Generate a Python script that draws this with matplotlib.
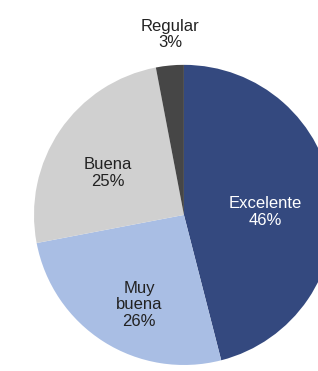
import matplotlib
matplotlib.use("Agg")
import matplotlib.pyplot as plt

categories = ["Excelente", "Muy buena", "Buena", "Regular"]
values = [46, 26, 25, 3]
label_texts = ["Excelente\n46%", "Muy\nbuena\n26%", "Buena\n25%", "Regular\n3%"]
colors = ["#34497f", "#a9bee4", "#d0d0d0", "#464646"]
text_colors = ["#ffffff", "#222222", "#222222", "#222222"]
label_pos = [(0.54, 0.02), (-0.30, -0.60), (-0.51, 0.28), (-0.09, 1.20)]

plt.rcParams['font.family'] = ['Liberation Sans', 'DejaVu Sans']

fig = plt.figure(figsize=(3.18, 3.71), dpi=100)
fig.patch.set_facecolor("white")
ax = fig.add_axes([0.1069, 0.0162, 0.943, 0.809])
ax.pie(values, colors=colors, startangle=90, counterclock=False,
       wedgeprops=dict(linewidth=0))
ax.set_xlim(-1, 1)
ax.set_ylim(-1, 1)
ax.set_aspect('auto')
for txt, c, (x, y) in zip(label_texts, text_colors, label_pos):
    ax.text(x, y, txt, ha='center', va='center', fontsize=12, color=c,
            linespacing=1.1, clip_on=False)
ax.axis('off')
fig.savefig("out.png", dpi=100, facecolor="white")
